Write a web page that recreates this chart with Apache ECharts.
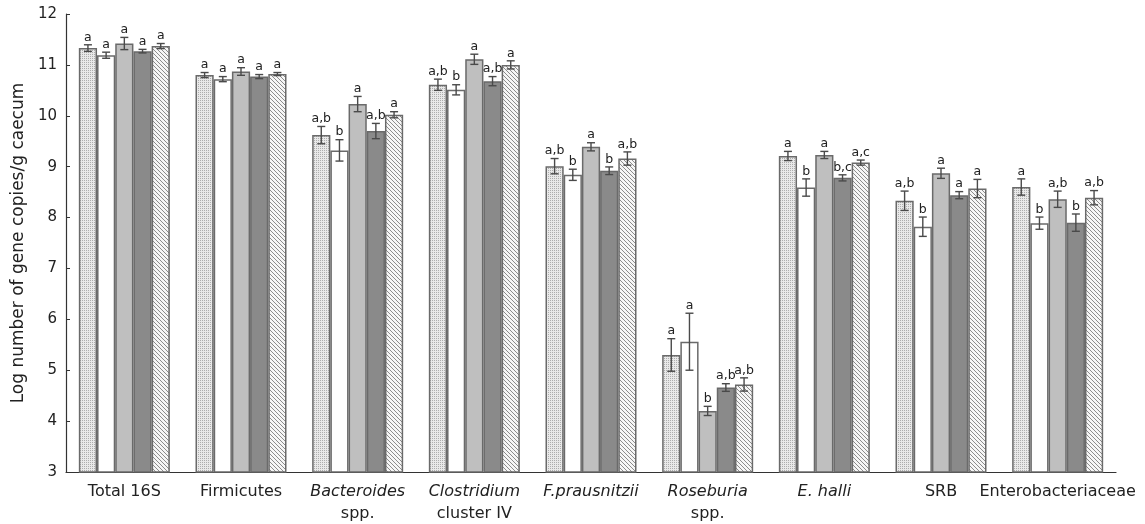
<!DOCTYPE html>
<html>
<head>
<meta charset="utf-8">
<script src="https://cdn.jsdelivr.net/npm/echarts@6/dist/echarts.min.js"></script>
<style>html,body{margin:0;padding:0;background:#fff}#c{width:1145px;height:524px}</style>
</head>
<body>
<div id="c"></div>
<script>
// ---- data ----
var categories = ['Total 16S', 'Firmicutes', 'Bacteroides\nspp.', 'Clostridium\ncluster IV', 'F.prausnitzii', 'Roseburia\nspp.', 'E. halli', 'SRB', 'Enterobacteriaceae'];
var italicTerms = ['Bacteroides', 'Clostridium', 'F.prausnitzii', 'Roseburia', 'E. halli'];
var yTicks = [3, 4, 5, 6, 7, 8, 9, 10, 11, 12];
var seriesNames = ['Group 1', 'Group 2', 'Group 3', 'Group 4', 'Group 5'];

var mean1 = [11.33, 10.80, 9.62, 10.61, 9.01, 5.30, 9.21, 8.33, 8.60];
var err1  = [0.065, 0.05, 0.17, 0.11, 0.15, 0.32, 0.09, 0.19, 0.16];
var sig1  = ['a', 'a', 'a,b', 'a,b', 'a,b', 'a', 'a', 'a,b', 'a'];

var mean2 = [11.19, 10.72, 9.32, 10.51, 8.84, 5.56, 8.59, 7.82, 7.89];
var err2  = [0.06, 0.05, 0.21, 0.10, 0.11, 0.56, 0.17, 0.19, 0.12];
var sig2  = ['a', 'a', 'b', 'b', 'b', 'a', 'b', 'b', 'b'];

var mean3 = [11.42, 10.87, 10.23, 11.11, 9.39, 4.20, 9.23, 8.87, 8.36];
var err3  = [0.12, 0.075, 0.15, 0.10, 0.08, 0.09, 0.07, 0.10, 0.16];
var sig3  = ['a', 'a', 'a', 'a', 'a', 'b', 'a', 'a', 'a,b'];

var mean4 = [11.27, 10.77, 9.70, 10.68, 8.92, 4.66, 8.78, 8.44, 7.90];
var err4  = [0.035, 0.04, 0.15, 0.09, 0.075, 0.075, 0.06, 0.07, 0.17];
var sig4  = ['a', 'a', 'a,b', 'a,b', 'b', 'a,b', 'b,c', 'a', 'b'];

var mean5 = [11.37, 10.82, 10.02, 11.00, 9.16, 4.72, 9.08, 8.57, 8.39];
var err5  = [0.05, 0.03, 0.06, 0.08, 0.13, 0.13, 0.05, 0.18, 0.14];
var sig5  = ['a', 'a', 'a', 'a', 'a,b', 'a,b', 'a,c', 'a', 'a,b'];

// ---- build ----
var means = [mean1, mean2, mean3, mean4, mean5];
var errs = [err1, err2, err3, err4, err5];
var sigs = [sig1, sig2, sig3, sig4, sig5];

function makePattern(size, draw) {
  var cv = document.createElement('canvas');
  cv.width = size; cv.height = size;
  var ctx = cv.getContext('2d');
  draw(ctx);
  return { image: cv, repeat: 'repeat' };
}
var dotPattern = makePattern(2, function (ctx) {
  ctx.fillStyle = '#e9e9e9'; ctx.fillRect(0, 0, 2, 2);
  ctx.fillStyle = '#adadad'; ctx.fillRect(0, 0, 1, 1);
});
var hatchPattern = makePattern(4, function (ctx) {
  ctx.fillStyle = '#f6f6f6'; ctx.fillRect(0, 0, 4, 4);
  ctx.fillStyle = '#8c8c8c';
  for (var i = 0; i < 4; i++) ctx.fillRect(i, i, 1, 1);
});
var fills = [dotPattern, '#ffffff', '#bfbfbf', '#8a8a8a', hatchPattern];

var FONT = 'DejaVu Sans';
var CAT_GAP = 0.22;
var N = 5;

var barSeries = seriesNames.map(function (nm, s) {
  return {
    name: nm,
    type: 'bar',
    data: means[s],
    barGap: '0%',
    barCategoryGap: (CAT_GAP * 100) + '%',
    itemStyle: { color: fills[s], borderColor: '#6a6a6a', borderWidth: 1.5 },
    z: 2
  };
});

var errData = [];
var errLabels = [];
for (var s = 0; s < N; s++) {
  for (var c = 0; c < categories.length; c++) {
    errData.push([c, s, means[s][c], errs[s][c]]);
    errLabels.push(sigs[s][c]);
  }
}

var errSeries = {
  type: 'custom',
  data: errData,
  encode: { x: 0, y: 2 },
  z: 5,
  silent: true,
  renderItem: function (params, api) {
    var c = api.value(0), s = api.value(1), m = api.value(2), e = api.value(3);
    var bandW = api.size([1, 0])[0];
    var groupW = bandW * (1 - CAT_GAP);
    var bw = groupW / N;
    var base = api.coord([c, m]);
    var cx = base[0] - groupW / 2 + bw * (s + 0.5);
    var yTop = api.coord([c, m + e])[1];
    var yBot = api.coord([c, m - e])[1];
    var hw = 4;
    var st = { stroke: '#4a4a4a', lineWidth: 1.4 };
    return {
      type: 'group',
      children: [
        { type: 'line', shape: { x1: cx, y1: yTop, x2: cx, y2: yBot }, style: st },
        { type: 'line', shape: { x1: cx - hw, y1: yTop, x2: cx + hw, y2: yTop }, style: st },
        { type: 'line', shape: { x1: cx - hw, y1: yBot, x2: cx + hw, y2: yBot }, style: st },
        { type: 'text', x: cx, y: yTop - 1, style: { text: errLabels[params.dataIndex], fill: '#222', font: '12.5px "' + FONT + '"', align: 'center', verticalAlign: 'bottom' } }
      ]
    };
  }
};

function fmtCat(v) {
  var out = v;
  italicTerms.forEach(function (t) {
    if (out.indexOf(t) === 0) out = '{i|' + t + '}' + '{n|' + out.slice(t.length).replace(/\n/, '}\n{n|') + '}';
  });
  if (out === v) out = '{n|' + v + '}';
  out = out.replace(/\{n\|\}/g, '');
  return out;
}

var chart = echarts.init(document.getElementById('c'), null, { renderer: 'canvas' });
chart.setOption({
  animation: false,
  backgroundColor: '#fff',
  grid: { left: 66, right: 29, top: 14, bottom: 52, containLabel: false },
  xAxis: {
    type: 'category',
    data: categories,
    axisLine: { lineStyle: { color: '#333', width: 1.2 } },
    axisTick: { inside: true, length: 5, lineStyle: { color: '#333' } },
    axisLabel: {
      margin: 9,
      color: '#222',
      interval: 0,
      formatter: fmtCat,
      rich: {
        i: { fontFamily: FONT, fontSize: 16, fontStyle: 'italic', color: '#222', lineHeight: 22 },
        n: { fontFamily: FONT, fontSize: 16, color: '#222', lineHeight: 22 }
      }
    }
  },
  yAxis: {
    type: 'value',
    min: yTicks[0],
    max: yTicks[yTicks.length - 1],
    interval: 1,
    name: 'Log number of gene copies/g caecum',
    nameLocation: 'middle',
    nameGap: 38,
    nameTextStyle: { fontFamily: FONT, fontSize: 17, color: '#222' },
    axisLine: { show: true, lineStyle: { color: '#333', width: 1.2 } },
    axisTick: { show: true, inside: true, length: 4, lineStyle: { color: '#333' } },
    axisLabel: { margin: 9, fontFamily: FONT, fontSize: 15, color: '#222' },
    splitLine: { show: false }
  },
  series: barSeries.concat([errSeries])
});
</script>
</body>
</html>
